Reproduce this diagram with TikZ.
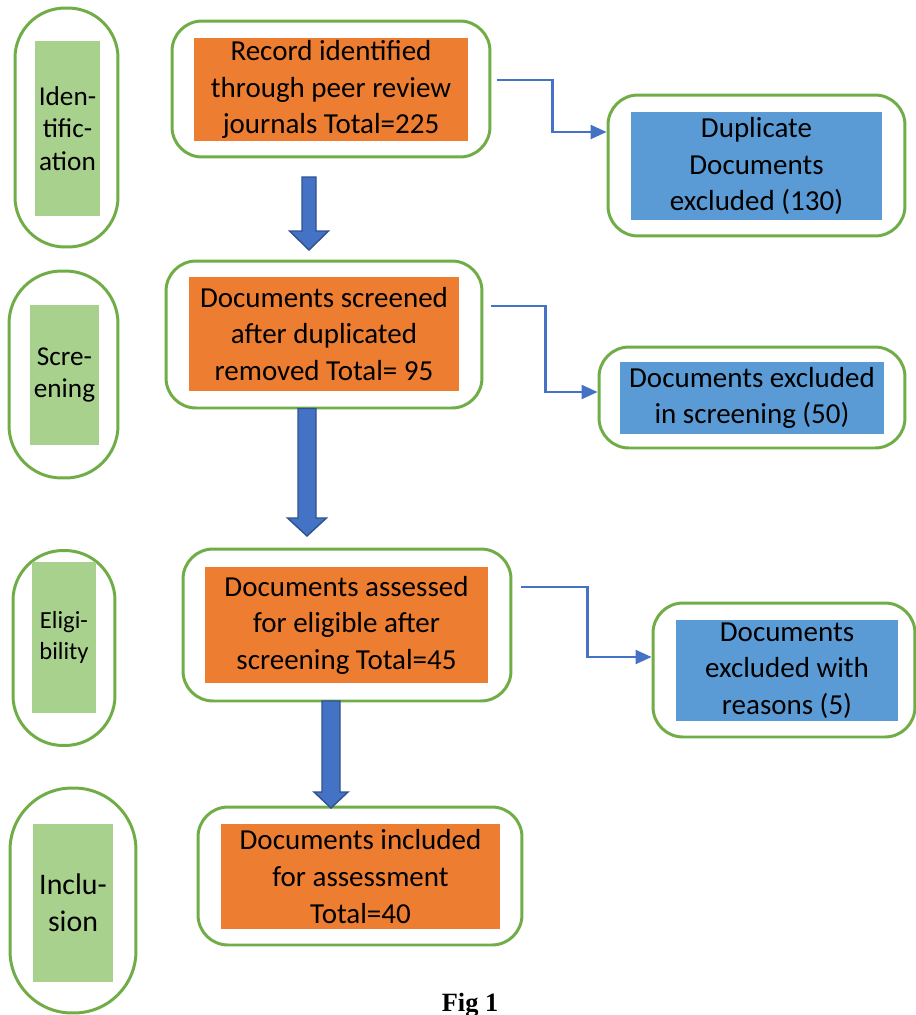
\documentclass[tikz,border=0pt]{standalone}
\usepackage{fontspec}
\setmainfont{Carlito}
\newfontfamily\figfont{Liberation Serif}
\usepackage{tikz}
\usetikzlibrary{arrows.meta,calc}
\definecolor{boxorange}{HTML}{ED7D31}
\definecolor{boxblue}{HTML}{5B9BD5}
\definecolor{stagegreen}{HTML}{A9D18E}
\definecolor{rimgreen}{HTML}{70AD47}
\definecolor{arrowblue}{HTML}{4472C4}
\definecolor{arrowrim}{HTML}{2F528F}
%%% block arrow: start, tip, half shaft, half head, head length (all in px)
\newcommand{\blockarrow}[5]{%
  \draw[bigarrow] let \p1=(#1), \p2=(#2) in
    (\x1-#3*0.02cm,\y1) -- (\x1+#3*0.02cm,\y1) -- (\x1+#3*0.02cm,\y2+#5*0.02cm)
    -- (\x1+#4*0.02cm,\y2+#5*0.02cm) -- (\x1,\y2) -- (\x1-#4*0.02cm,\y2+#5*0.02cm)
    -- (\x1-#3*0.02cm,\y2+#5*0.02cm) -- cycle;}
\begin{document}
\begin{tikzpicture}[x=0.02cm, y=-0.02cm,
  rim/.style={draw=rimgreen, line width=1.7pt, rounded corners=0.6cm, inner sep=0pt},
  stagerim/.style={draw=rimgreen, line width=1.7pt, inner sep=0pt},
  orangebox/.style={fill=boxorange, inner sep=0pt, align=center, font=\fontsize{16.5}{20.8}\selectfont},
  bluebox/.style={fill=boxblue, inner sep=0pt, align=center, font=\fontsize{16.5}{20.8}\selectfont},
  stagebox/.style={fill=stagegreen, inner sep=0pt, align=center, font=\fontsize{15.5}{18.5}\selectfont},
  link/.style={draw=arrowblue, line width=1.3pt, -{Triangle[length=0.32cm,width=0.28cm]}},
  bigarrow/.style={fill=arrowblue, draw=arrowrim, line width=0.8pt},
  figlabel/.style={anchor=base, inner sep=0pt, font=\figfont\bfseries\fontsize{15}{18}\selectfont}]
\useasboundingbox (0,0) rectangle (916,1015);
%%% The stage ovals on the left
\node[stagerim, rounded corners=1cm, minimum width=2.06cm, minimum height=4.78cm] (sidrim) at (66.5,127.5) {};
\node[stagebox, minimum width=1.3cm, minimum height=3.5cm] (sid) at (67.5,128.5) {Iden-\\tific-\\ation};
\node[stagerim, rounded corners=1.05cm, minimum width=2.18cm, minimum height=4.14cm] (sscrim) at (63.5,374.5) {};
\node[stagebox, minimum width=1.38cm, minimum height=2.8cm] (ssc) at (64.5,375) {Scre-\\ening};
\node[stagerim, rounded corners=1cm, minimum width=2.04cm, minimum height=3.9cm] (selrim) at (64,648) {};
\node[stagebox, minimum width=1.28cm, minimum height=3.02cm, font=\fontsize{14}{17.5}\selectfont] (sel) at (64,637.5) {Eligi-\\bility};
\node[stagerim, rounded corners=1.24cm, minimum width=2.52cm, minimum height=4.5cm] (sinrim) at (73,900.5) {};
\node[stagebox, minimum width=1.6cm, minimum height=3.16cm, font=\fontsize{17}{21}\selectfont] (sin) at (73,903) {Inclu-\\sion};
%%% The main boxes in the middle
\node[rim, minimum width=6.36cm, minimum height=2.72cm] (recrim) at (331,89) {};
\node[orangebox, minimum width=5.48cm, minimum height=2.06cm] (rec) at (331,89.5) {Record identified\\through peer review\\journals Total=225};
\node[rim, minimum width=6.32cm, minimum height=2.94cm] (scrrim) at (324,334.5) {};
\node[orangebox, minimum width=5.4cm, minimum height=2.28cm] (scr) at (324,334) {Documents screened\\after duplicated\\removed Total= 95};
\node[rim, minimum width=6.56cm, minimum height=3.04cm] (assrim) at (347,625) {};
\node[orangebox, minimum width=5.66cm, minimum height=2.32cm] (ass) at (346.5,625) {Documents assessed\\for eligible after\\screening Total=45};
\node[rim, minimum width=6.48cm, minimum height=2.76cm] (incrim) at (360,876) {};
\node[orangebox, minimum width=5.58cm, minimum height=2.1cm] (inc) at (360.5,876.5) {Documents included\\for assessment\\Total=40};
%%% The excluded boxes on the right
\node[rim, minimum width=5.94cm, minimum height=2.82cm] (duprim) at (756.5,165.5) {};
\node[bluebox, minimum width=5.02cm, minimum height=2.16cm] (dup) at (756.5,166) {Duplicate\\Documents\\excluded (130)};
\node[rim, minimum width=6.12cm, minimum height=2.02cm] (exsrim) at (752,397.5) {};
\node[bluebox, minimum width=5.28cm, minimum height=1.44cm] (exs) at (752,398) {Documents excluded\\in screening (50)};
\node[rim, minimum width=5.24cm, minimum height=2.68cm] (exrrim) at (784,670) {};
\node[bluebox, minimum width=4.44cm, minimum height=2.02cm] (exr) at (787,670.5) {Documents\\excluded with\\reasons (5)};
%%% The thin elbow links to the excluded boxes
\draw[link] ($(recrim.east)+(6,-9)$) -- ++(55,0) |- ($(duprim.west)+(0,-33.5)$);
\draw[link] ($(scrrim.east)+(8,-28.5)$) -- ++(54,0) |- ($(exsrim.west)+(0,-5.5)$);
\draw[link] ($(assrim.east)+(9,-38)$) -- ++(66,0) |- ($(exrrim.west)+(0,-13)$);
%%% The block arrows between the stages
\coordinate (a1) at (309,177);
\coordinate (a1tip) at (309,250);
\coordinate (a2) at (307,408.5);
\coordinate (a2tip) at (307,536);
\coordinate (a3) at (331,701);
\coordinate (a3tip) at (331,808);
\blockarrow{a1}{a1tip}{7}{19.5}{19}
\blockarrow{a2}{a2tip}{9}{19.5}{18}
\blockarrow{a3}{a3tip}{9}{17}{16}
%%% The caption at the foot
\node[figlabel] (fig) at (470,1011) {Fig 1};
\end{tikzpicture}
\end{document}
